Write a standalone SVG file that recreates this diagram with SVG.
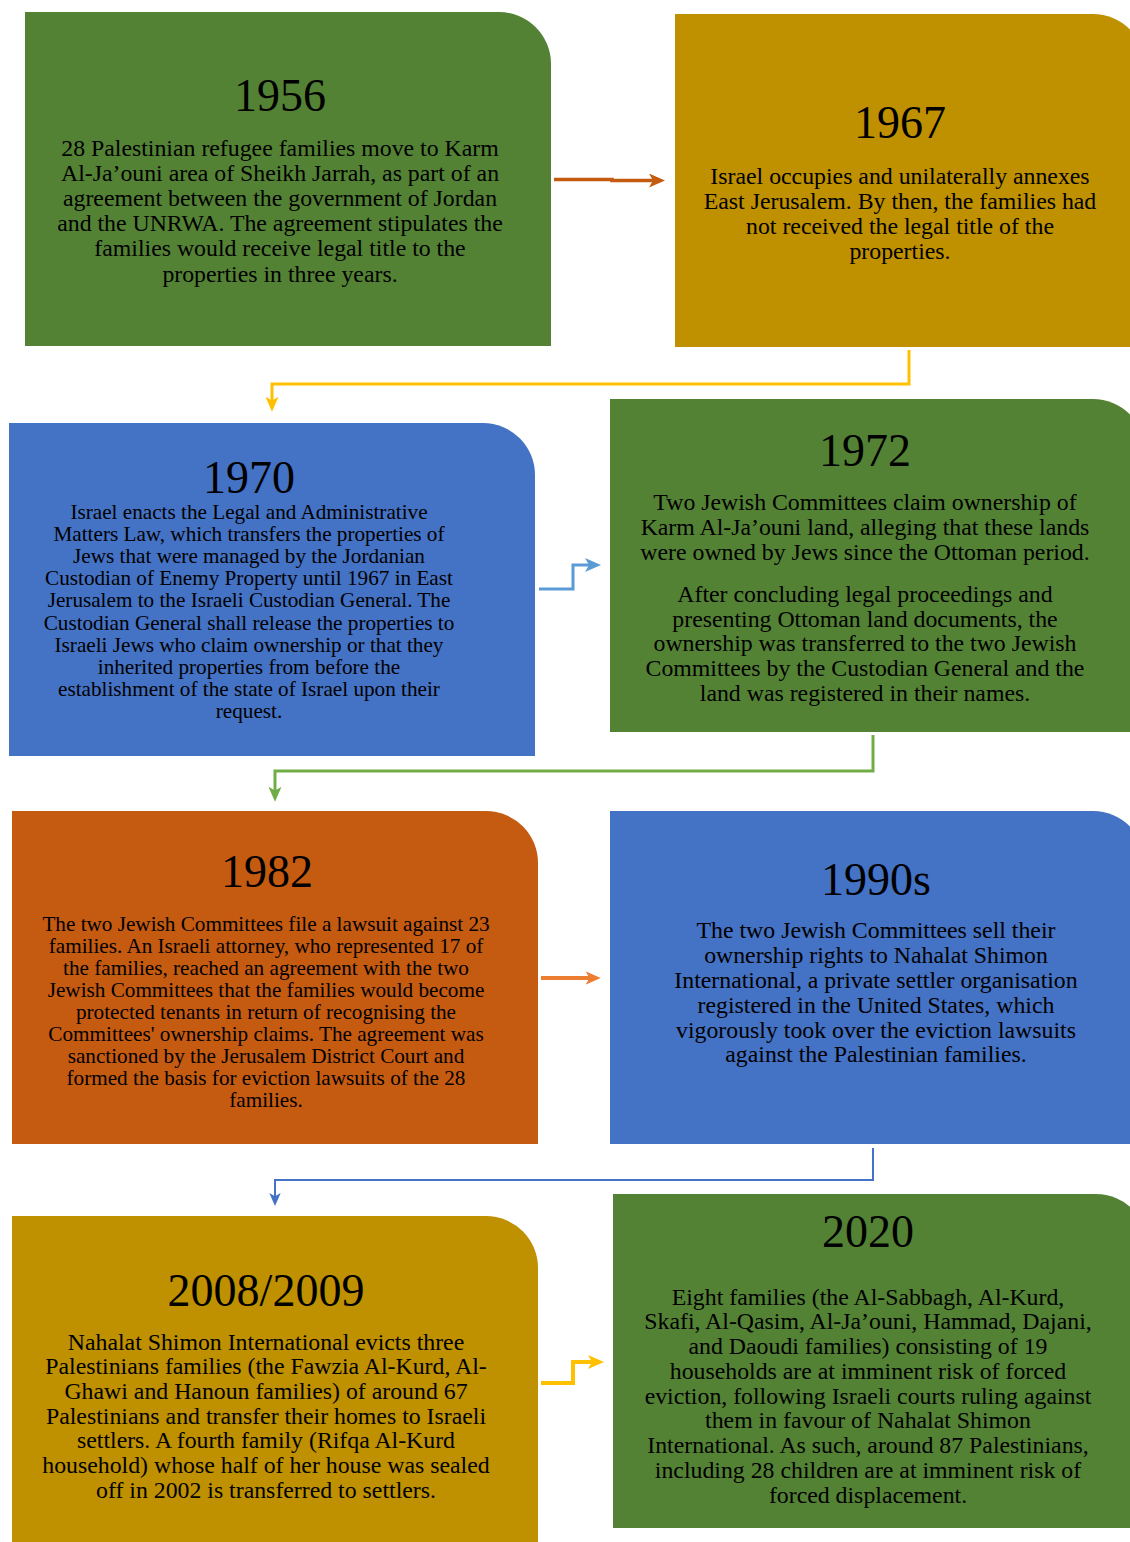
<svg xmlns="http://www.w3.org/2000/svg" width="1130" height="1542" viewBox="0 0 1130 1542">
<style>
text{font-family:"Liberation Serif","Times New Roman",serif;fill:#000;text-anchor:middle}
.yr{font-size:46px}
.b{font-size:23.8px}
.s{font-size:21.2px}
.green{fill:#548235}.gold{fill:#BF9000}.blue{fill:#4472C4}.orange{fill:#C55A11}
.c{fill:none;stroke-linejoin:miter}
</style>
<defs>
<marker id="mO" markerUnits="userSpaceOnUse" viewBox="0 0 16 14" refX="11" refY="7" markerWidth="16" markerHeight="14" orient="auto"><path d="M0,0 L16,7 L0,14 L4,7 Z" fill="#C55A11"/></marker>
<marker id="mY" markerUnits="userSpaceOnUse" viewBox="0 0 16 14" refX="11" refY="7" markerWidth="15" markerHeight="13" orient="auto"><path d="M0,0 L16,7 L0,14 L4,7 Z" fill="#FFC000"/></marker>
<marker id="mLB" markerUnits="userSpaceOnUse" viewBox="0 0 16 14" refX="11" refY="7" markerWidth="16" markerHeight="16" orient="auto"><path d="M0,0 L16,7 L0,14 L4,7 Z" fill="#5B9BD5"/></marker>
<marker id="mG" markerUnits="userSpaceOnUse" viewBox="0 0 16 14" refX="11" refY="7" markerWidth="15" markerHeight="13" orient="auto"><path d="M0,0 L16,7 L0,14 L4,7 Z" fill="#70AD47"/></marker>
<marker id="mO2" markerUnits="userSpaceOnUse" viewBox="0 0 16 14" refX="11" refY="7" markerWidth="15" markerHeight="16" orient="auto"><path d="M0,0 L16,7 L0,14 L4,7 Z" fill="#ED7D31"/></marker>
<marker id="mB" markerUnits="userSpaceOnUse" viewBox="0 0 16 14" refX="11" refY="7" markerWidth="13" markerHeight="12" orient="auto"><path d="M0,0 L16,7 L0,14 L4,7 Z" fill="#4472C4"/></marker>
<marker id="mY2" markerUnits="userSpaceOnUse" viewBox="0 0 16 14" refX="11" refY="7" markerWidth="16" markerHeight="17" orient="auto"><path d="M0,0 L16,7 L0,14 L4,7 Z" fill="#FFC000"/></marker>
</defs>
<rect width="1130" height="1542" fill="#fff"/>

<g id="n1956">
<path class="green" d="M25,12 H499 A52,52 0 0 1 551,64 V346 H25 Z"/>
<text class="yr" x="280" y="111">1956</text>
<text class="b" x="280" y="156">28 Palestinian refugee families move to Karm</text>
<text class="b" x="280" y="181">Al-Ja’ouni area of Sheikh Jarrah, as part of an</text>
<text class="b" x="280" y="206">agreement between the government of Jordan</text>
<text class="b" x="280" y="231">and the UNRWA. The agreement stipulates the</text>
<text class="b" x="280" y="256">families would receive legal title to the</text>
<text class="b" x="280" y="282">properties in three years.</text>
</g>

<g id="n1967">
<path class="gold" d="M675,14 H1093 A52,52 0 0 1 1145,66 V347 H675 Z"/>
<text class="yr" x="900" y="138">1967</text>
<text class="b" x="900" y="184">Israel occupies and unilaterally annexes</text>
<text class="b" x="900" y="209">East Jerusalem. By then, the families had</text>
<text class="b" x="900" y="234">not received the legal title of the</text>
<text class="b" x="900" y="259">properties.</text>
</g>

<g id="n1970">
<path class="blue" d="M9,423 H483 A52,52 0 0 1 535,475 V756 H9 Z"/>
<text class="yr" x="249" y="493">1970</text>
<text class="s" x="249" y="519">Israel enacts the Legal and Administrative</text>
<text class="s" x="249" y="541">Matters Law, which transfers the properties of</text>
<text class="s" x="249" y="563">Jews that were managed by the Jordanian</text>
<text class="s" x="249" y="585">Custodian of Enemy Property until 1967 in East</text>
<text class="s" x="249" y="607">Jerusalem to the Israeli Custodian General. The</text>
<text class="s" x="249" y="630">Custodian General shall release the properties to</text>
<text class="s" x="249" y="652">Israeli Jews who claim ownership or that they</text>
<text class="s" x="249" y="674">inherited properties from before the</text>
<text class="s" x="249" y="696">establishment of the state of Israel upon their</text>
<text class="s" x="249" y="718">request.</text>
</g>

<g id="n1972">
<path class="green" d="M610,399 H1093 A52,52 0 0 1 1145,451 V732 H610 Z"/>
<text class="yr" x="865" y="466">1972</text>
<text class="b" x="865" y="510">Two Jewish Committees claim ownership of</text>
<text class="b" x="865" y="535">Karm Al-Ja’ouni land, alleging that these lands</text>
<text class="b" x="865" y="560">were owned by Jews since the Ottoman period.</text>
<text class="b" x="865" y="602">After concluding legal proceedings and</text>
<text class="b" x="865" y="627">presenting Ottoman land documents, the</text>
<text class="b" x="865" y="651">ownership was transferred to the two Jewish</text>
<text class="b" x="865" y="676">Committees by the Custodian General and the</text>
<text class="b" x="865" y="701">land was registered in their names.</text>
</g>

<g id="n1982">
<path class="orange" d="M12,811 H486 A52,52 0 0 1 538,863 V1144 H12 Z"/>
<text class="yr" x="267" y="887">1982</text>
<text class="s" x="266" y="931">The two Jewish Committees file a lawsuit against 23</text>
<text class="s" x="266" y="953">families. An Israeli attorney, who represented 17 of</text>
<text class="s" x="266" y="975">the families, reached an agreement with the two</text>
<text class="s" x="266" y="997">Jewish Committees that the families would become</text>
<text class="s" x="266" y="1019">protected tenants in return of recognising the</text>
<text class="s" x="266" y="1041">Committees' ownership claims. The agreement was</text>
<text class="s" x="266" y="1063">sanctioned by the Jerusalem District Court and</text>
<text class="s" x="266" y="1085">formed the basis for eviction lawsuits of the 28</text>
<text class="s" x="266" y="1107">families.</text>
</g>

<g id="n1990s">
<path class="blue" d="M610,811 H1093 A52,52 0 0 1 1145,863 V1144 H610 Z"/>
<text class="yr" x="876" y="895">1990s</text>
<text class="b" x="876" y="938">The two Jewish Committees sell their</text>
<text class="b" x="876" y="963">ownership rights to Nahalat Shimon</text>
<text class="b" x="876" y="988">International, a private settler organisation</text>
<text class="b" x="876" y="1013">registered in the United States, which</text>
<text class="b" x="876" y="1038">vigorously took over the eviction lawsuits</text>
<text class="b" x="876" y="1062">against the Palestinian families.</text>
</g>

<g id="n2008">
<path class="gold" d="M12,1216 H486 A52,52 0 0 1 538,1268 V1560 H12 Z"/>
<text class="yr" x="266" y="1306">2008/2009</text>
<text class="b" x="266" y="1350">Nahalat Shimon International evicts three</text>
<text class="b" x="266" y="1374">Palestinians families (the Fawzia Al-Kurd, Al-</text>
<text class="b" x="266" y="1399">Ghawi and Hanoun families) of around 67</text>
<text class="b" x="266" y="1424">Palestinians and transfer their homes to Israeli</text>
<text class="b" x="266" y="1448">settlers. A fourth family (Rifqa Al-Kurd</text>
<text class="b" x="266" y="1473">household) whose half of her house was sealed</text>
<text class="b" x="266" y="1498">off in 2002 is transferred to settlers.</text>
</g>

<g id="n2020">
<path class="green" d="M613,1194 H1096 A52,52 0 0 1 1148,1246 V1528 H613 Z"/>
<text class="yr" x="868" y="1247">2020</text>
<text class="b" x="868" y="1305">Eight families (the Al-Sabbagh, Al-Kurd,</text>
<text class="b" x="868" y="1329">Skafi, Al-Qasim, Al-Ja’ouni, Hammad, Dajani,</text>
<text class="b" x="868" y="1354">and Daoudi families) consisting of 19</text>
<text class="b" x="868" y="1379">households are at imminent risk of forced</text>
<text class="b" x="868" y="1404">eviction, following Israeli courts ruling against</text>
<text class="b" x="868" y="1428">them in favour of Nahalat Shimon</text>
<text class="b" x="868" y="1453">International. As such, around 87 Palestinians,</text>
<text class="b" x="868" y="1478">including 28 children are at imminent risk of</text>
<text class="b" x="868" y="1503">forced displacement.</text>
</g>

<g id="connectors">
<path class="c" d="M554,179.5 H612 V180.5 H660" stroke="#C55A11" stroke-width="3.5" marker-end="url(#mO)"/>
<path class="c" d="M909,350 V384 H272 V407" stroke="#FFC000" stroke-width="3" marker-end="url(#mY)"/>
<path class="c" d="M539,589 H573 V565 H596" stroke="#5B9BD5" stroke-width="3" marker-end="url(#mLB)"/>
<path class="c" d="M873,735 V771 H275 V797" stroke="#70AD47" stroke-width="3" marker-end="url(#mG)"/>
<path class="c" d="M541,978 H596" stroke="#ED7D31" stroke-width="4" marker-end="url(#mO2)"/>
<path class="c" d="M873,1148 V1180 H275 V1202" stroke="#4472C4" stroke-width="2" marker-end="url(#mB)"/>
<path class="c" d="M541,1383 H573 V1362 H599" stroke="#FFC000" stroke-width="4" marker-end="url(#mY2)"/>
</g>
</svg>
